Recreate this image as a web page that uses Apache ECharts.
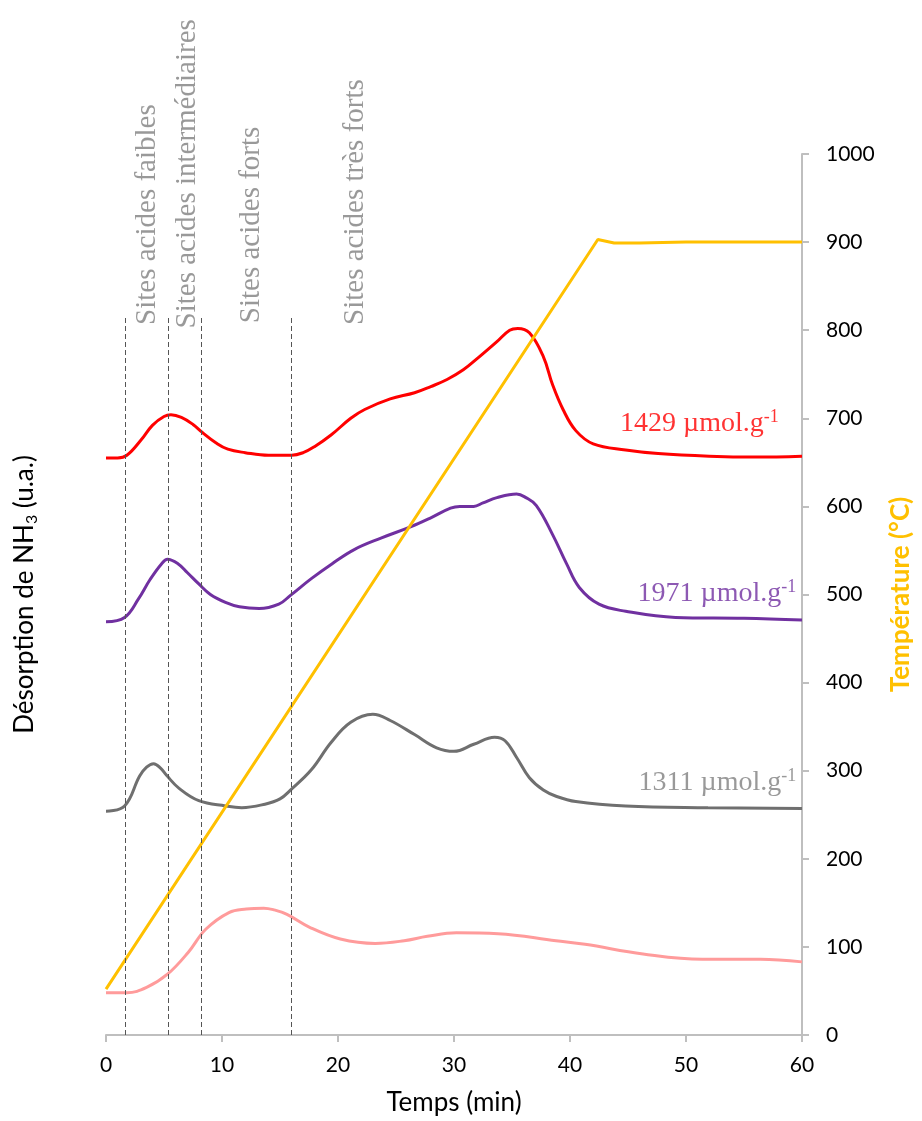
<!DOCTYPE html>
<html><head><meta charset="utf-8">
<script src="https://cdn.jsdelivr.net/npm/echarts@6/dist/echarts.min.js"></script>
<style>html,body{margin:0;padding:0;background:#fff;overflow:hidden}#c{width:922px;height:1121px}</style>
</head><body><div id="c"></div>
<script>
// ---- data (time in min, signal in arbitrary units on the 0-1000 scale; temperature in °C) ----
const xTickValues = [0, 10, 20, 30, 40, 50, 60];
const tempTickValues = [0, 100, 200, 300, 400, 500, 600, 700, 800, 900, 1000];

const curve1429 = [[0,655],[1,655],[1.8,658],[3,675],[4,692],[5,702],[5.6,704],[6.5,701],[7.5,693],[8.3,684],[9.5,672],[10.5,665],[12,661],[14,658],[16,658],[17,661],[18,668],[19.4,681],[21.1,700],[22.3,710],[24.5,722],[26.6,729],[28,736],[29.4,744],[30.8,755],[32.2,770],[33.7,787],[34.8,800],[35.5,802],[36.5,797],[37.7,770],[38.5,738],[39.4,710],[40.5,686],[42,671],[44.8,664],[47.6,660],[52,657],[56,656],[60,657]];
const curve1971 = [[0,469],[1.6,474],[2.8,495],[3.8,517],[4.8,535],[5.3,540],[6.2,535],[7,525],[8,512],[9,500],[10.3,491],[11.5,486],[13.2,484],[14.9,489],[15.9,499],[17.7,518],[19.5,535],[21.4,551],[23.7,564],[26.3,577],[28,587],[29.7,598],[30.5,600],[31.7,600],[32.5,604],[33.7,610],[35.4,614],[36.2,610],[37.1,601],[38.5,568],[39.7,535],[40.8,508],[42.5,489],[44.8,481],[49.1,474],[55,473],[60,471]];
const curve1311 = [[0,254],[1.6,260],[2.9,294],[3.5,304],[4.1,308],[4.7,303],[5.2,295],[6.3,280],[8,266],[10.3,260],[11.7,258],[13.7,262],[15,268],[15.9,278],[17.7,301],[19.4,332],[21.1,355],[23,364],[24.5,357],[26.6,341],[28.5,326],[30,322],[31.7,330],[33.5,338],[34.4,334],[35.4,315],[36.5,292],[37.7,278],[38.8,271],[40.5,265],[44.8,260],[51.9,258],[60,257]];
const curvePink = [[0,48],[1.8,48],[3.5,54],[5.3,69],[7.1,94],[8.6,120],[10.6,139],[12.1,143],[13.6,144],[14.5,142],[15.6,137],[17.6,122],[20.2,109],[23.2,104],[25.7,107],[27.7,112],[30.2,116],[33.8,115],[38.8,107],[41.3,103],[46.3,92],[51.4,86],[56.4,86],[60,83]];
const temperature = [[0,52],[42.4,903],[43.8,899],[46,899],[50,900],[60,900]];

// boundaries between acid-site regions (min) and their top (signal units)
const boundaryTimes = [1.7, 5.4, 8.2, 16.0];
const boundaryTop = 816;

// region labels and their anchors (time, signal)
const regionNames = ['Sites acides faibles', 'Sites acides intermédiaires', 'Sites acides forts', 'Sites acides très forts'];
const regionAnchors = [[3.6, 806], [7.0, 802], [12.5, 808], [21.5, 806]];

// curve labels
const curveLabelTexts = ['1429 µmol.g', '1971 µmol.g', '1311 µmol.g'];
const curveLabelAnchors = [[58.0, 694], [59.5, 501], [59.5, 287]];
const curveLabelColors = ['#FF0000', '#7030A0', '#7F7F7F'];

// ---- chart ----
const SANS = 'Lato, "Liberation Sans", sans-serif';
const SERIF = '"Liberation Serif", "DejaVu Serif", serif';
const chart = echarts.init(document.getElementById('c'), null, {renderer: 'canvas', width: 922, height: 1121});

const dashLines = boundaryTimes.map(t => [{coord: [t, 0]}, {coord: [t, boundaryTop]}]);

const curveLabelSeries = curveLabelTexts.map((txt, i) => ({
  type: 'scatter', yAxisIndex: 0, symbolSize: 0, silent: true, z: 5,
  data: [curveLabelAnchors[i]],
  label: {
    show: true, position: 'inside', align: 'right', verticalAlign: 'middle',
    formatter: '{m|' + txt + '}{s|-1}',
    rich: {
      m: {fontFamily: SERIF, fontSize: 28, color: curveLabelColors[i], lineHeight: 30},
      s: {fontFamily: SERIF, fontSize: 18, color: curveLabelColors[i], verticalAlign: 'top', lineHeight: 30}
    }
  }
}));

const option = {
  animation: false,
  backgroundColor: '#ffffff',
  grid: {left: 106, right: 114, top: 154, bottom: 85, containLabel: false},
  xAxis: {
    type: 'value', min: 0, max: 60, interval: 10,
    name: 'Temps (min)', nameLocation: 'middle', nameGap: 55,
    nameTextStyle: {fontFamily: SANS, fontSize: 26, color: '#000'},
    axisLine: {show: true, lineStyle: {color: '#BFBFBF', width: 2}},
    axisTick: {show: true, inside: false, length: 7, lineStyle: {color: '#BFBFBF', width: 2}},
    axisLabel: {fontFamily: SANS, fontSize: 21, color: '#000', margin: 20,
      formatter: v => xTickValues.includes(v) ? String(v) : ''},
    splitLine: {show: false}
  },
  yAxis: [
    {
      type: 'value', min: 0, max: 1000, position: 'left',
      name: 'Désorption de NH{sub|3} (u.a.)', nameLocation: 'middle', nameRotate: 90, nameGap: 66,
      nameTextStyle: {fontFamily: SANS, fontSize: 26, color: '#000',
        rich: {sub: {fontFamily: SANS, fontSize: 16, color: '#000', verticalAlign: 'bottom', padding: [14, 0, 0, 0]}}},
      axisLine: {show: false}, axisTick: {show: false}, axisLabel: {show: false}, splitLine: {show: false}
    },
    {
      type: 'value', min: 0, max: 1000, interval: 100, position: 'right',
      name: 'Température (°C)', nameLocation: 'middle', nameRotate: 90, nameGap: 86,
      nameTextStyle: {fontFamily: SANS, fontSize: 26, fontWeight: 'bold', color: '#FFC000'},
      axisLine: {show: true, lineStyle: {color: '#BFBFBF', width: 2}},
      axisTick: {show: true, inside: false, length: 7, lineStyle: {color: '#BFBFBF', width: 2}},
      axisLabel: {fontFamily: SANS, fontSize: 21, color: '#000', margin: 24,
        formatter: v => tempTickValues.includes(v) ? String(v) : ''},
      splitLine: {show: false}
    }
  ],
  series: [
    {
      name: 'pink', type: 'line', yAxisIndex: 0, data: curvePink, showSymbol: false, smooth: 0.4,
      lineStyle: {color: '#FF9B9B', width: 3}, z: 2,
      markLine: {
        silent: true, symbol: ['none', 'none'], label: {show: false},
        lineStyle: {color: '#555555', type: [5, 3], width: 1},
        data: dashLines
      }
    },
    {name: '1311', type: 'line', yAxisIndex: 0, data: curve1311, showSymbol: false, smooth: 0.4,
      lineStyle: {color: '#6F6F6F', width: 3}, z: 3},
    {name: '1971', type: 'line', yAxisIndex: 0, data: curve1971, showSymbol: false, smooth: 0.4,
      lineStyle: {color: '#7030A0', width: 3}, z: 3},
    {name: '1429', type: 'line', yAxisIndex: 0, data: curve1429, showSymbol: false, smooth: 0.4,
      lineStyle: {color: '#FF0000', width: 3}, z: 3},
    {name: 'Température', type: 'line', yAxisIndex: 1, data: temperature, showSymbol: false,
      lineStyle: {color: '#FFC000', width: 3}, z: 4},
    {
      type: 'scatter', yAxisIndex: 0, symbolSize: 0, silent: true, z: 5,
      data: regionAnchors.map((a, i) => [a[0], a[1], regionNames[i]]),
      label: {
        show: true, position: 'inside', rotate: 90, align: 'left', verticalAlign: 'middle',
        formatter: p => p.data[2],
        fontFamily: SERIF, fontSize: 29, color: '#7F7F7F'
      }
    },
    ...curveLabelSeries
  ]
};
chart.setOption(option);
</script>
</body></html>
